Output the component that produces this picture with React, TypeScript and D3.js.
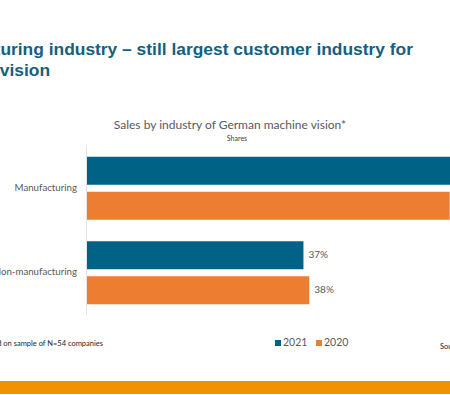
import React from 'react';
import * as d3 from 'd3';

// data
const categories = ['Manufacturing', 'Non-manufacturing'];
const seriesNames = ['2021', '2020'];
const values2021 = [63, 37];
const values2020 = [62, 38];
const seriesColors = ['#006385', '#ED7D31'];

const W = 450, H = 395;
const chartFont = 'Lato, "Open Sans", sans-serif';

const App = () => {
  const x = d3.scaleLinear().domain([0, 100]).range([87, 87 + 585]);
  const y = d3.scaleBand().domain(categories).range([146, 315]).padding(0);
  const ySub = d3.scaleBand()
    .domain(seriesNames)
    .range([0, y.bandwidth()])
    .paddingInner(0.2)
    .paddingOuter(0.307);
  const color = d3.scaleOrdinal<string, string>().domain(seriesNames).range(seriesColors);

  const rows = categories.map((c, i) => ({
    category: c,
    bars: [
      { key: '2021', value: values2021[i] },
      { key: '2020', value: values2020[i] },
    ],
  }));

  return (
    <svg width={W} height={H} style={{ position: 'absolute', left: 0, top: 0, overflow: 'hidden', background: '#fff' }}>
      {/* slide heading, cut off by the crop */}
      <g fontFamily='"Liberation Sans", Arial, sans-serif' fontWeight="bold" fontSize={17.4} fill="#14607f">
        <text x={413} y={55} textAnchor="end">Manufacturing industry – still largest customer industry for</text>
        <text x={50} y={76} textAnchor="end">machine vision</text>
      </g>

      {/* chart title */}
      <text x={230} y={129} textAnchor="middle" fontFamily={chartFont} fontSize={12} fill="#595959">
        Sales by industry of German machine vision*
      </text>
      <text x={237} y={141} textAnchor="middle" fontFamily={chartFont} fontSize={7} fill="#404040">Shares</text>

      {/* bars */}
      {rows.map(r => (
        <g key={r.category} transform={`translate(0, ${y(r.category)})`}>
          {r.bars.map(b => (
            <g key={b.key}>
              <rect
                x={x(0)}
                y={ySub(b.key)}
                width={x(b.value) - x(0)}
                height={ySub.bandwidth()}
                fill={color(b.key)}
              />
              <text
                x={x(b.value) + 5}
                y={(ySub(b.key) as number) + ySub.bandwidth() / 2}
                dominantBaseline="middle"
                fontFamily={chartFont}
                fontSize={10}
                fill="#595959"
              >{b.value}%</text>
            </g>
          ))}
          <text
            x={77}
            y={y.bandwidth() / 2}
            textAnchor="end"
            dominantBaseline="middle"
            fontFamily={chartFont}
            fontSize={9.7}
            fill="#595959"
          >{r.category}</text>
        </g>
      ))}

      {/* category axis line */}
      <line x1={86.5} x2={86.5} y1={146} y2={315} stroke="#e4e4e4" strokeWidth={1} />

      {/* legend */}
      {seriesNames.map((s, i) => (
        <g key={s} transform={`translate(${275 + i * 41}, 343)`}>
          <rect x={0} y={-3} width={6} height={6} fill={color(s)} />
          <text x={8} y={0} dominantBaseline="middle" fontFamily={chartFont} fontSize={10.5} fill="#595959">{s}</text>
        </g>
      ))}

      {/* footnote and source */}
      <text x={103} y={346} textAnchor="end" fontFamily={chartFont} fontSize={7.5} fill="#262626">
        * Based on sample of N=54 companies
      </text>
      <text x={440} y={349} fontFamily={chartFont} fontSize={7.5} fill="#262626">Source: VDMA</text>

      {/* bottom band */}
      <rect x={0} y={381} width={W} height={13} fill="#F39200" />
    </svg>
  );
};

export default App;
